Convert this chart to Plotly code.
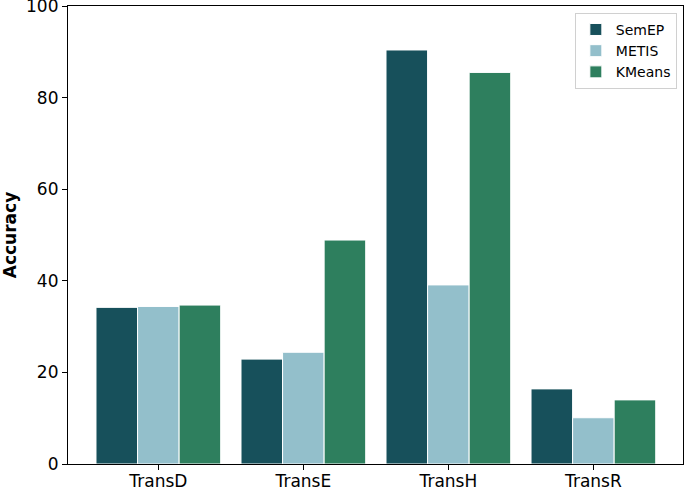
import plotly.graph_objects as go

categories = ["TransD", "TransE", "TransH", "TransR"]
semep = [34.2, 22.9, 90.4, 16.4]
metis = [34.4, 24.4, 39.1, 10.1]
kmeans = [34.7, 48.9, 85.5, 14.0]
series_names = ["SemEP", "METIS", "KMeans"]
colors = ["#17505B", "#93BFCB", "#2E7F5E"]

fig = go.Figure()
for name, vals, c in zip(series_names, [semep, metis, kmeans], colors):
    fig.add_trace(go.Bar(
        x=categories, y=vals, name=name,
        marker=dict(color=c, line=dict(color="white", width=1)),
    ))

fig.update_layout(
    width=685, height=490,
    margin=dict(l=68, r=2, t=6, b=26, autoexpand=False),
    paper_bgcolor="white", plot_bgcolor="white",
    barmode="group", bargap=0.14, bargroupgap=0.0,
    font=dict(family="DejaVu Sans", size=17, color="black"),
    legend=dict(
        x=0.99, y=0.985, xanchor="right", yanchor="top",
        bordercolor="#d0d0d0", borderwidth=1, bgcolor="white",
        font=dict(size=14), tracegroupgap=0,
    ),
    showlegend=True,
)
fig.update_xaxes(
    range=[-0.623, 3.618], showline=True, linecolor="black", linewidth=1.2,
    mirror=True, ticks="outside", ticklen=5, tickcolor="black",
    showgrid=False, automargin=False, ticklabelstandoff=-4,
)
fig.update_yaxes(
    range=[0, 100], tickvals=[0, 20, 40, 60, 80, 100],
    showline=True, linecolor="black", linewidth=1.2, mirror=True,
    ticks="outside", ticklen=5, tickcolor="black", showgrid=False,
    zeroline=False, automargin=False, ticklabeloverflow="allow",
    title=dict(text="<b>Accuracy</b>", font=dict(size=17), standoff=8),
)

fig.write_html("out.html", config={"displayModeBar": False},
               post_script="document.body.style.margin='0';")
